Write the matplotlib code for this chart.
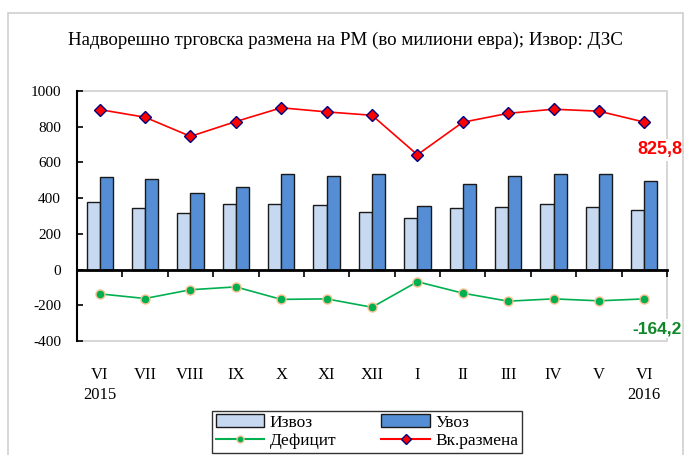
import matplotlib
matplotlib.use("Agg")
import matplotlib.pyplot as plt
from matplotlib.patches import Rectangle, Patch
from matplotlib.lines import Line2D
import matplotlib.transforms as mtransforms

months = ["VI", "VII", "VIII", "IX", "X", "XI", "XII", "I", "II", "III", "IV", "V", "VI"]
years = ["2015", "", "", "", "", "", "", "", "", "", "", "", "2016"]
export = [377, 344, 317, 368, 368, 361, 325, 290, 344, 353, 368, 353, 331]
imports = [516, 510, 430, 465, 533, 524, 533, 355, 482, 525, 533, 533, 495]
deficit = [-136, -162, -113, -97, -167, -164, -211, -68, -132, -177, -164, -175, -164.2]
total = [896, 853, 746, 829, 906, 883, 864, 643, 825, 875, 898, 887, 825.8]
yticks = [-400, -200, 0, 200, 400, 600, 800, 1000]

serif = "Liberation Serif"
sans = "Liberation Sans"

fig = plt.figure(figsize=(6.9, 4.55), dpi=100)
fig.patches.append(Rectangle((8/690, -0.1), 675/690, 1.1 - 12.7/455, transform=fig.transFigure,
                             fill=False, edgecolor="#D0D0D0", lw=1.2))
ax = fig.add_axes([77/690, 114/455, 590/690, 250/455])

x = list(range(len(months)))
w = 0.29
ax.bar([i - w/2 for i in x], export, width=w, color="#C6D9F1", edgecolor="#1a1a1a", lw=1.0, zorder=3)
ax.bar([i + w/2 for i in x], imports, width=w, color="#558ED5", edgecolor="#1a1a1a", lw=1.0, zorder=3)
ax.plot(x, total, color="#FF0000", lw=1.2, marker="D", ms=6.5, mfc="#FF0000", mec="#000080", mew=1.0, zorder=5)
ax.plot(x, deficit, color="#00B050", lw=1.2, marker="o", ms=6.5, mfc="#00B050", mec="#FAC090", mew=1.0, zorder=5)

ax.set_xlim(-0.5, len(months) - 0.5)
ax.set_ylim(-400, 1000)
ax.set_yticks(yticks)
ax.set_yticklabels([str(v) for v in yticks], fontfamily=serif, fontsize=11)
ax.tick_params(axis="y", direction="in", length=4, width=1.2, color="black", pad=11.5)

ax.add_patch(Rectangle((0, 0), 1, 1, transform=ax.transAxes, fill=False, edgecolor="#D0D0D0", lw=1.2, clip_on=False, zorder=0))
for s in ["top", "right"]:
    ax.spines[s].set_visible(False)
ax.spines["left"].set_linewidth(1.5)
ax.spines["bottom"].set_position(("data", 0))
ax.spines["bottom"].set_linewidth(2.0)
ax.spines["bottom"].set_zorder(4)
ax.set_xticks([])
ax.set_xticks([i + 0.5 for i in x[:-1]] + [len(months) - 0.5], minor=True)
ax.tick_params(axis="x", which="minor", direction="out", length=5, width=1.2, color="black")

trans = mtransforms.blended_transform_factory(ax.transData, ax.transAxes)
for i, (m, yv) in enumerate(zip(months, years)):
    ax.text(i, -0.137, m, transform=trans, ha="center", va="center", fontfamily=serif, fontsize=12)
    if yv:
        ax.text(i, -0.217, yv, transform=trans, ha="center", va="center", fontfamily=serif, fontsize=12)

ax.annotate("825,8", xy=(x[-1], total[-1]), xytext=(11.5, -20), textcoords="offset points",
            ha="center", va="center", fontfamily=sans, fontweight="bold", fontsize=13, color="#FF0000",
            bbox=dict(facecolor="white", edgecolor="none", pad=1.5), zorder=6)
ax.annotate("-164,2", xy=(x[-1], deficit[-1]), xytext=(9.5, -21.5), textcoords="offset points",
            ha="center", va="center", fontfamily=sans, fontweight="bold", fontsize=12.5, color="#11872A",
            bbox=dict(facecolor="white", edgecolor="none", pad=1.5), zorder=6)

fig.text(345/690, 1 - 40/455, "Надворешно трговска размена на РМ (во милиони евра); Извор: ДЗС",
         ha="center", va="center", fontfamily=serif, fontsize=13.6)

handles = [Patch(facecolor="#C6D9F1", edgecolor="#1a1a1a"),
           Line2D([], [], color="#00B050", marker="o", ms=5, mfc="#00B050", mec="#FAC090"),
           Patch(facecolor="#558ED5", edgecolor="#1a1a1a"),
           Line2D([], [], color="#FF0000", marker="D", ms=5, mfc="#FF0000", mec="#000080")]
labels = ["Извоз", "Дефицит", "Увоз", "Вк.размена"]
leg = fig.legend(handles, labels, ncol=2, loc="upper center", bbox_to_anchor=(367/690, 1 - 411/455),
                 frameon=True, fancybox=False, edgecolor="black", prop={"family": serif, "size": 12.5},
                 borderpad=0.2, labelspacing=0.15, handlelength=2.8, handletextpad=0.3, columnspacing=2.6,
                 borderaxespad=0)
leg.get_frame().set_linewidth(1.0)

fig.savefig("out.png", dpi=100)
